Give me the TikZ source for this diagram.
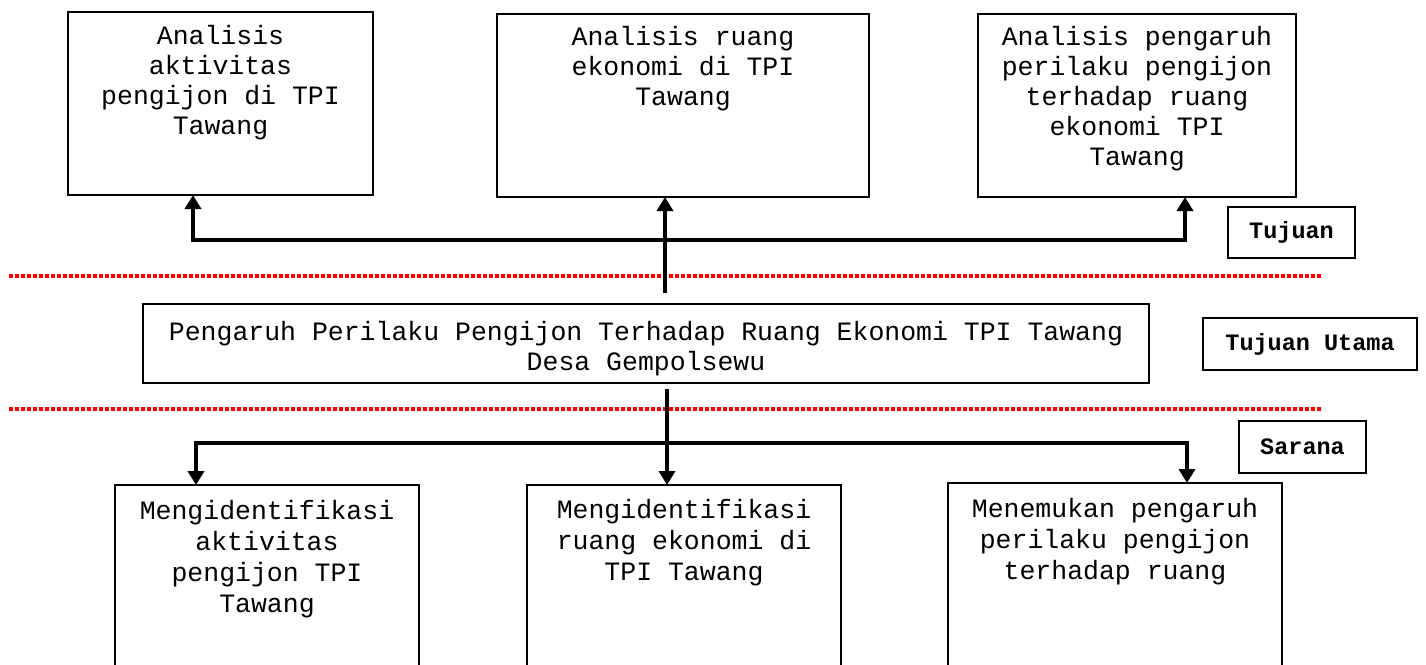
\documentclass[tikz,border=0pt]{standalone}
\usepackage{fontspec}
\setmainfont{Liberation Mono}
\usetikzlibrary{arrows.meta}
\newcommand\firstln{\rule{0pt}{21pt}}
\begin{document}
\begin{tikzpicture}[x=1pt,y=-1pt,
  box/.style={draw, line width=2pt, anchor=north west, outer sep=0pt, inner sep=0pt},
  txt/.style={anchor=north, align=center, inner sep=0pt, font=\fontsize{26.5}{30}\selectfont},
  txtb/.style={txt, font=\fontsize{26.5}{31}\selectfont},
  tag/.style={draw, line width=2pt, outer sep=0pt, inner sep=0pt, font=\fontsize{23.5}{26}\selectfont\bfseries},
  conn/.style={line width=4.5pt},
  ah/.tip={Triangle[width=16pt,length=14pt]},
  sep/.style={red, line width=3.5pt, dash pattern=on 3.5pt off 2.5pt}]
\useasboundingbox (0,0) rectangle (1426,664);
\clip (0,0) rectangle (1426,664);

% level separators
\draw[sep] (9,276) -- (1322,276);
\draw[sep] (9,409) -- (1322,409);

% goals
\node[box, minimum width=305pt, minimum height=183pt] (a1) at (68,12) {};
\node[txt] (ta1) at (220.5,23) {\firstln Analisis\\aktivitas\\pengijon di TPI\\Tawang};
\node[box, minimum width=372pt, minimum height=183pt] (a2) at (497,14) {};
\node[txt] (ta2) at (683,24) {\firstln Analisis ruang\\ekonomi di TPI\\Tawang};
\node[box, minimum width=318pt, minimum height=183pt] (a3) at (978,14) {};
\node[txt] (ta3) at (1137,24) {\firstln Analisis pengaruh\\perilaku pengijon\\terhadap ruang\\ekonomi TPI\\Tawang};

% main goal
\node[box, minimum width=1006pt, minimum height=79pt] (m) at (143,304) {};
\node[txt] (tm) at (646,319) {\firstln Pengaruh Perilaku Pengijon Terhadap Ruang Ekonomi TPI Tawang\\Desa Gempolsewu};

% means
\node[box, minimum width=304pt, minimum height=230pt] (b1) at (115,485) {};
\node[txtb] (tb1) at (267,498) {\firstln Mengidentifikasi\\aktivitas\\pengijon TPI\\Tawang};
\node[box, minimum width=314pt, minimum height=230pt] (b2) at (527,485) {};
\node[txtb] (tb2) at (684,497) {\firstln Mengidentifikasi\\ruang ekonomi di\\TPI Tawang};
\node[box, minimum width=334pt, minimum height=232pt] (b3) at (948,483) {};
\node[txtb] (tb3) at (1115,496) {\firstln Menemukan pengaruh\\perilaku pengijon\\terhadap ruang};

% level tags
\node[tag, minimum width=127pt, minimum height=51pt] (t1) at (1291.5,232.5) {Tujuan};
\node[tag, minimum width=214pt, minimum height=52pt] (t2) at (1310,344) {Tujuan Utama};
\node[tag, minimum width=127pt, minimum height=52pt] (t3) at (1302.5,447) {Sarana};

% upward connectors
\coordinate (jl) at (193,240);
\coordinate (jr) at (1185,240);
\coordinate (up) at (665,293);
\draw[conn, ah-ah] (jl |- a1.south) -- (jl) -- (jr) -- (jr |- a3.south);
\draw[conn, -ah] (up) -- (up |- a2.south);

% downward connectors
\coordinate (dn) at (667,389);
\coordinate (bl) at (196,443);
\coordinate (br) at (1187,443);
\draw[conn, -ah] (dn) -- (dn |- b2.north);
\draw[conn, ah-ah] (bl |- b1.north) -- (bl) -- (br) -- (br |- b3.north);
\end{tikzpicture}
\end{document}
